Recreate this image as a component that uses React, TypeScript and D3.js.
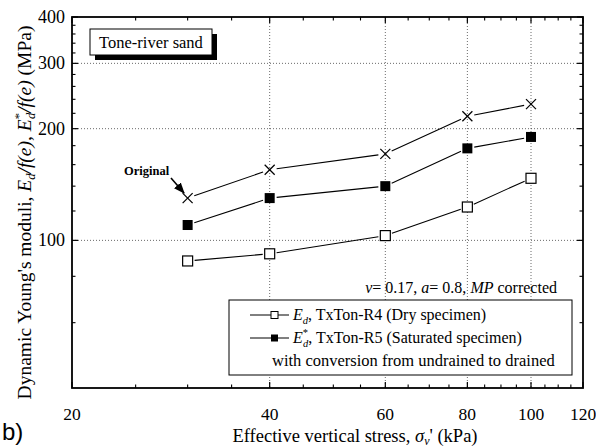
import React from 'react';
import * as d3 from 'd3';

// effective vertical stress (kPa)
const stress = [30, 40, 60, 80, 100];
// "Original" (saturated, without conversion)
const originalE = [130, 155, 171, 216, 233];
// E_d* TxTon-R5 saturated, converted
const saturatedE = [110, 130, 140, 177, 190];
// E_d TxTon-R4 dry
const dryE = [88, 92, 103, 123, 147];

const xTicks = [20, 40, 60, 80, 100, 120];
const yTicks = [100, 200, 300, 400];
const xGrid = [40, 60, 80, 100];
const yGrid = [100, 200, 300];

const W = 596;
const H = 448;
const L = 72, R = 583, T = 17, B = 388;
const serif = 'Liberation Serif, DejaVu Serif, serif';

const x = d3.scaleLog().domain([20, 120]).range([L, R]);
const y = d3.scaleLog().domain([40, 400]).range([B, T]);

const xMinor = d3.range(25, 120, 5).filter(v => !xTicks.includes(v));
const yMinor = d3.range(60, 400, 20).filter(v => !yTicks.includes(v));

// segments between markers, leaving a small gap round each marker
function gappedSegments(vals: number[], gap: number) {
  const pts = stress.map((s, i) => [x(s), y(vals[i])]);
  const segs: string[] = [];
  for (let i = 0; i < pts.length - 1; i++) {
    const [x1, y1] = pts[i];
    const [x2, y2] = pts[i + 1];
    const len = Math.hypot(x2 - x1, y2 - y1);
    const ux = (x2 - x1) / len, uy = (y2 - y1) / len;
    segs.push(`M${x1 + ux * gap},${y1 + uy * gap}L${x2 - ux * gap},${y2 - uy * gap}`);
  }
  return segs.join('');
}

export default function App() {
  const sq = 10;
  return (
    <svg width={W} height={H} style={{ position: 'absolute', left: 0, top: 0, background: '#fff', fontFamily: serif }}>
      <defs>
        <marker id="arr" viewBox="0 0 10 10" refX="9" refY="5" markerWidth="7" markerHeight="7" orient="auto">
          <path d="M0,1L10,5L0,9Z" fill="#000" />
        </marker>
      </defs>

      {/* grid */}
      {xGrid.map(v => (
        <line key={'gx' + v} x1={x(v)} x2={x(v)} y1={T} y2={B} stroke="#444" strokeWidth={0.8} strokeDasharray="1,2" />
      ))}
      {yGrid.map(v => (
        <line key={'gy' + v} x1={L} x2={R} y1={y(v)} y2={y(v)} stroke="#444" strokeWidth={0.8} strokeDasharray="1,2" />
      ))}

      {/* ticks, all inward on four sides */}
      {xTicks.map(v => (
        <g key={'xt' + v}>
          <line x1={x(v)} x2={x(v)} y1={B} y2={B - 6} stroke="#000" strokeWidth={1.2} />
          <line x1={x(v)} x2={x(v)} y1={T} y2={T + 6} stroke="#000" strokeWidth={1.2} />
          <text x={x(v)} y={420} fontSize={17.5} textAnchor="middle">{v}</text>
        </g>
      ))}
      {xMinor.map(v => (
        <g key={'xm' + v}>
          <line x1={x(v)} x2={x(v)} y1={B} y2={B - 3.5} stroke="#000" strokeWidth={1.1} />
          <line x1={x(v)} x2={x(v)} y1={T} y2={T + 3.5} stroke="#000" strokeWidth={1.1} />
        </g>
      ))}
      {yTicks.map(v => (
        <g key={'yt' + v}>
          <line x1={L} x2={L + 6} y1={y(v)} y2={y(v)} stroke="#000" strokeWidth={1.2} />
          <line x1={R} x2={R - 6} y1={y(v)} y2={y(v)} stroke="#000" strokeWidth={1.2} />
          <text x={65} y={y(v) + 6} fontSize={18} textAnchor="end">{v}</text>
        </g>
      ))}
      {yMinor.map(v => (
        <g key={'ym' + v}>
          <line x1={L} x2={L + 3.5} y1={y(v)} y2={y(v)} stroke="#000" strokeWidth={1.1} />
          <line x1={R} x2={R - 3.5} y1={y(v)} y2={y(v)} stroke="#000" strokeWidth={1.1} />
        </g>
      ))}

      {/* frame */}
      <rect x={L} y={T} width={R - L} height={B - T} fill="none" stroke="#000" strokeWidth={1.8} />

      {/* series lines */}
      <path d={gappedSegments(originalE, 7)} stroke="#000" strokeWidth={1.1} fill="none" />
      <path d={gappedSegments(saturatedE, 7)} stroke="#000" strokeWidth={1.1} fill="none" />
      <path d={gappedSegments(dryE, 7)} stroke="#000" strokeWidth={1.1} fill="none" />

      {/* markers */}
      {stress.map((s, i) => (
        <g key={'c' + s} stroke="#000" strokeWidth={1.2}>
          <line x1={x(s) - 5} x2={x(s) + 5} y1={y(originalE[i]) - 5} y2={y(originalE[i]) + 5} />
          <line x1={x(s) - 5} x2={x(s) + 5} y1={y(originalE[i]) + 5} y2={y(originalE[i]) - 5} />
        </g>
      ))}
      {stress.map((s, i) => (
        <rect key={'f' + s} x={x(s) - sq / 2} y={y(saturatedE[i]) - sq / 2} width={sq} height={sq} fill="#000" />
      ))}
      {stress.map((s, i) => (
        <rect key={'o' + s} x={x(s) - sq / 2} y={y(dryE[i]) - sq / 2} width={sq} height={sq}
          fill="#fff" stroke="#000" strokeWidth={1.2} />
      ))}

      {/* "Original" label with arrow */}
      <text x={124} y={175} fontSize={12.5} fontWeight="bold">Original</text>
      <line x1={171} y1={178} x2={184} y2={193} stroke="#000" strokeWidth={1.6} markerEnd="url(#arr)" />

      {/* title box with shadow */}
      <rect x={95} y={34} width={122} height={26} fill="#000" />
      <rect x={90} y={29} width={122} height={26} fill="#fff" stroke="#000" strokeWidth={1} />
      <text x={151} y={47.5} fontSize={16.5} textAnchor="middle">Tone-river sand</text>

      {/* parameters */}
      <text x={557} y={293} fontSize={16} textAnchor="end">
        <tspan fontStyle="italic">ν</tspan>= 0.17, <tspan fontStyle="italic">a</tspan>= 0.8, <tspan fontStyle="italic">MP</tspan> corrected
      </text>

      {/* legend */}
      <rect x={229} y={300} width={343} height={75} fill="#fff" stroke="#000" strokeWidth={1} />
      <line x1={250} x2={289} y1={315} y2={315} stroke="#000" strokeWidth={1} />
      <rect x={271} y={311.5} width={7} height={7} fill="#fff" stroke="#000" strokeWidth={1} />
      <text x={293} y={320} fontSize={16}>
        <tspan fontStyle="italic">E</tspan><tspan fontSize={10.5} dy={4} fontStyle="italic">d</tspan><tspan dy={-4}>, TxTon-R4 (Dry specimen)</tspan>
      </text>
      <line x1={250} x2={289} y1={338} y2={338} stroke="#000" strokeWidth={1} />
      <rect x={271} y={334.5} width={7} height={7} fill="#000" />
      <text x={293} y={343} fontSize={16}>
        <tspan fontStyle="italic">E</tspan><tspan fontSize={10.5} dy={-7}>*</tspan><tspan fontSize={10.5} dx={-5} dy={11} fontStyle="italic">d</tspan><tspan dy={-4}>, TxTon-R5 (Saturated specimen)</tspan>
      </text>
      <text x={272} y={366} fontSize={16.5}>with conversion from undrained to drained</text>

      {/* axis titles */}
      <text x={355} y={442} fontSize={18.5} textAnchor="middle">
        Effective vertical stress, <tspan fontStyle="italic">σ</tspan><tspan fontSize={12} dy={3} fontStyle="italic">v</tspan><tspan dy={-3}>' (kPa)</tspan>
      </text>
      <text transform={`translate(31,${(T + B) / 2 + 10}) rotate(-90)`} fontSize={19.5} textAnchor="middle">
        Dynamic Young's moduli, <tspan fontStyle="italic">E</tspan><tspan fontSize={12.5} dy={4} fontStyle="italic">d</tspan><tspan dy={-4} fontStyle="italic">/f(e)</tspan>, <tspan fontStyle="italic">E</tspan><tspan fontSize={12.5} dy={-8}>*</tspan><tspan fontSize={12.5} dx={-6} dy={12} fontStyle="italic">d</tspan><tspan dy={-4} fontStyle="italic">/f(e)</tspan> (MPa)
      </text>

      <text x={2} y={440} fontSize={24} style={{ fontFamily: 'Liberation Sans, Arial, sans-serif' }}>b)</text>
    </svg>
  );
}
